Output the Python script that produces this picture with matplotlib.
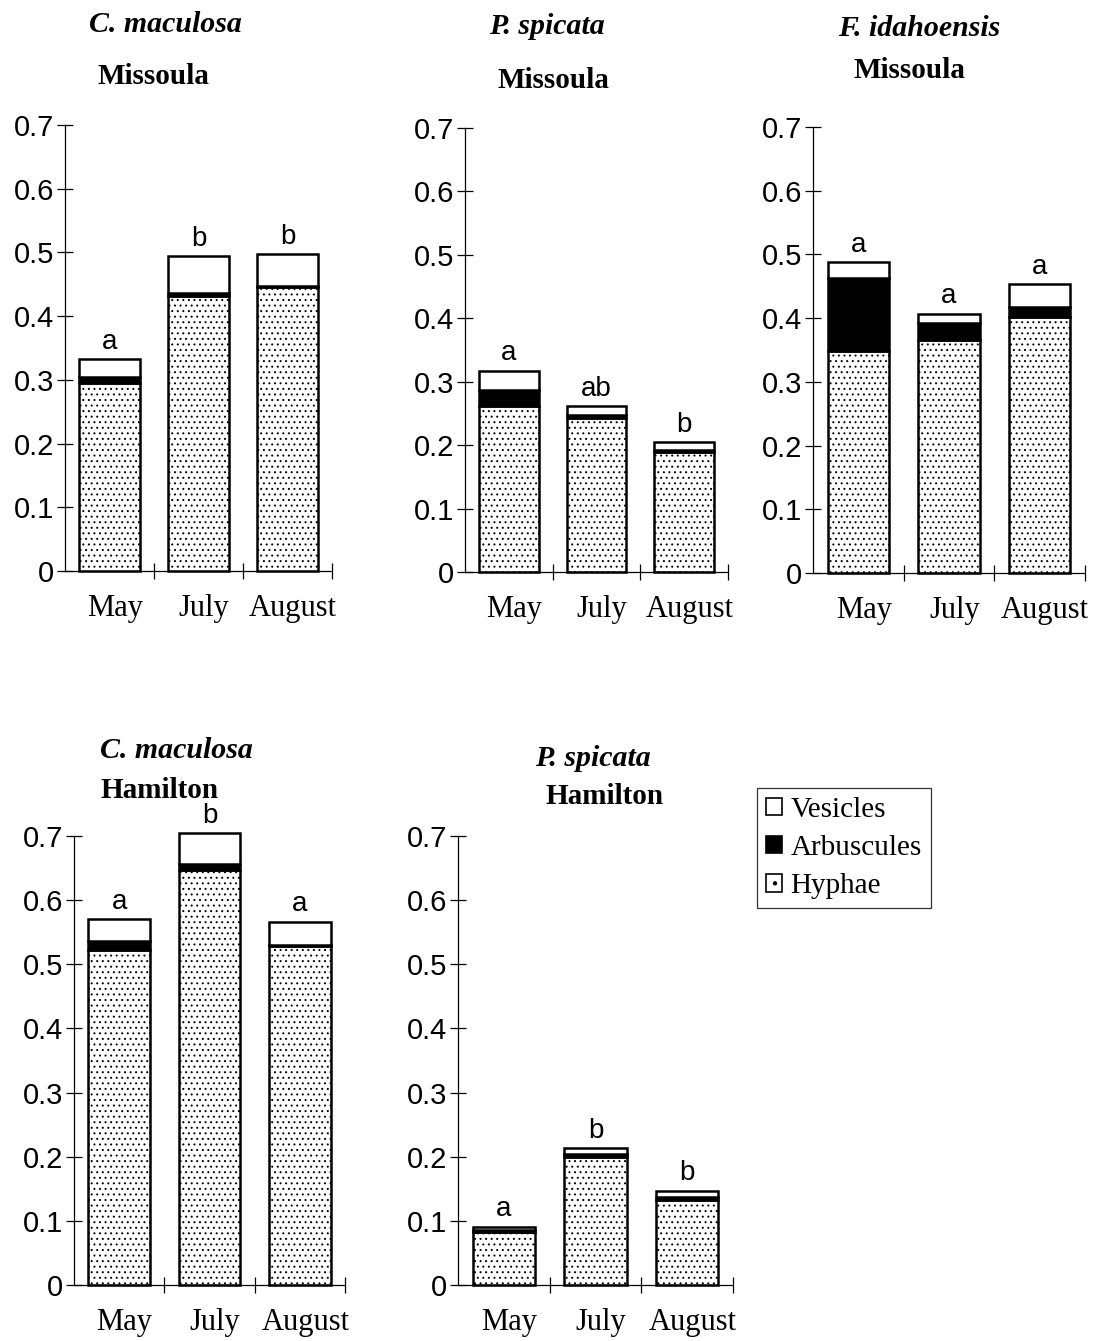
import numpy as np
import matplotlib
matplotlib.use("Agg")
import matplotlib.pyplot as plt
from matplotlib.patches import Patch

plt.rcParams['hatch.linewidth'] = 0.7

months = ["May", "July", "August"]

# colonization fractions per panel: hyphae, arbuscules, vesicles
cm_mis_hyphae = [0.295, 0.432, 0.445]
cm_mis_arbus = [0.010, 0.004, 0.002]
cm_mis_vesic = [0.027, 0.058, 0.050]
cm_mis_letters = ["a", "b", "b"]

ps_mis_hyphae = [0.262, 0.243, 0.189]
ps_mis_arbus = [0.025, 0.005, 0.003]
ps_mis_vesic = [0.030, 0.013, 0.013]
ps_mis_letters = ["a", "ab", "b"]

fi_mis_hyphae = [0.349, 0.366, 0.402]
fi_mis_arbus = [0.114, 0.026, 0.016]
fi_mis_vesic = [0.025, 0.015, 0.035]
fi_mis_letters = ["a", "a", "a"]

cm_ham_hyphae = [0.522, 0.647, 0.528]
cm_ham_arbus = [0.015, 0.010, 0.002]
cm_ham_vesic = [0.033, 0.047, 0.036]
cm_ham_letters = ["a", "b", "a"]

ps_ham_hyphae = [0.082, 0.199, 0.132]
ps_ham_arbus = [0.003, 0.005, 0.005]
ps_ham_vesic = [0.006, 0.009, 0.010]
ps_ham_letters = ["a", "b", "b"]

W, H = 1094, 1341
fig = plt.figure(figsize=(W / 100, H / 100), dpi=100)


def px_axes(x0, x1, y0, y1):
    # x0,x1 : pixel x of axis start/end; y0 : pixel y of value 0; y1 : pixel y of 0.7
    return fig.add_axes([x0 / W, 1 - y0 / H, (x1 - x0) / W, (y0 - y1) / H])


def panel(ax, hyphae, arbus, vesic, letters, species, site, sp_y, site_y, sp_x, site_x):
    x = np.arange(len(months))
    hyphae = np.array(hyphae)
    arbus = np.array(arbus)
    vesic = np.array(vesic)
    bw = 0.68
    ax.bar(x, hyphae, bw, color="white", edgecolor="black", hatch="...",
           linewidth=1.8, clip_on=False)
    ax.bar(x, arbus, bw, bottom=hyphae, color="black", edgecolor="black",
           linewidth=1.8, clip_on=False)
    ax.bar(x, vesic, bw, bottom=hyphae + arbus, color="white", edgecolor="black",
           linewidth=1.8, clip_on=False)
    tops = hyphae + arbus + vesic
    for xi, t, lab in zip(x, tops, letters):
        ax.text(xi, t + 0.007, lab, ha="center", va="bottom", fontsize=20,
                family="Liberation Sans")
    ax.set_xlim(-0.5, 2.5)
    ax.set_ylim(0, 0.7)
    ax.spines['top'].set_visible(False)
    ax.spines['right'].set_visible(False)
    ax.spines['left'].set_linewidth(0.9)
    ax.spines['bottom'].set_linewidth(0.9)
    ax.set_yticks([0, 0.1, 0.2, 0.3, 0.4, 0.5, 0.6, 0.7])
    ax.set_yticklabels(["0", "0.1", "0.2", "0.3", "0.4", "0.5", "0.6", "0.7"],
                       family="Liberation Sans", fontsize=21)
    ax.tick_params(axis="y", direction="inout", length=12, width=0.9, pad=2)
    ax.set_xticks([0.5, 1.5, 2.5])
    ax.set_xticklabels([])
    ax.tick_params(axis="x", direction="inout", length=12, width=0.9)
    for xi, m in zip(x, months):
        ax.text(xi + 0.06, -0.036, m, ha="center", va="top", fontsize=22,
                family="Liberation Serif", transform=ax.transData)
    fig.text(sp_x / W, 1 - sp_y / H, species, ha="center", va="center",
             fontsize=21.5, family="Liberation Serif", style="italic", weight="bold")
    fig.text(site_x / W, 1 - site_y / H, site, ha="center", va="center",
             fontsize=21, family="Liberation Serif", weight="bold")


ax1 = px_axes(65, 332, 571, 125)
panel(ax1, cm_mis_hyphae, cm_mis_arbus, cm_mis_vesic, cm_mis_letters,
      "C. maculosa", "Missoula", 25, 77, 165, 153)

ax2 = px_axes(465, 728, 572, 128)
panel(ax2, ps_mis_hyphae, ps_mis_arbus, ps_mis_vesic, ps_mis_letters,
      "P. spicata", "Missoula", 27, 80, 547, 553)

ax3 = px_axes(813, 1085, 573, 127)
panel(ax3, fi_mis_hyphae, fi_mis_arbus, fi_mis_vesic, fi_mis_letters,
      "F. idahoensis", "Missoula", 28, 70, 919, 909)

ax4 = px_axes(74, 345, 1285, 836)
panel(ax4, cm_ham_hyphae, cm_ham_arbus, cm_ham_vesic, cm_ham_letters,
      "C. maculosa", "Hamilton", 750, 790, 176, 160)

ax5 = px_axes(458, 733, 1285, 836)
panel(ax5, ps_ham_hyphae, ps_ham_arbus, ps_ham_vesic, ps_ham_letters,
      "P. spicata", "Hamilton", 759, 796, 593, 605)

handles = [
    Patch(facecolor="white", edgecolor="black", linewidth=1.2, label="Vesicles"),
    Patch(facecolor="black", edgecolor="black", linewidth=1.2, label="Arbuscules"),
    Patch(facecolor="white", edgecolor="black", linewidth=1.2, hatch=".", label="Hyphae"),
]
leg = fig.legend(handles=handles, loc="upper left",
                 bbox_to_anchor=(757 / W, 1 - 788 / H),
                 prop={"family": "Liberation Serif", "size": 21},
                 frameon=True, fancybox=False, edgecolor="black",
                 handlelength=0.55, handleheight=0.55, handletextpad=0.3,
                 labelspacing=0.42, borderpad=0.3, borderaxespad=0)
leg.get_frame().set_linewidth(0.9)

fig.savefig("out.png", dpi=100)
